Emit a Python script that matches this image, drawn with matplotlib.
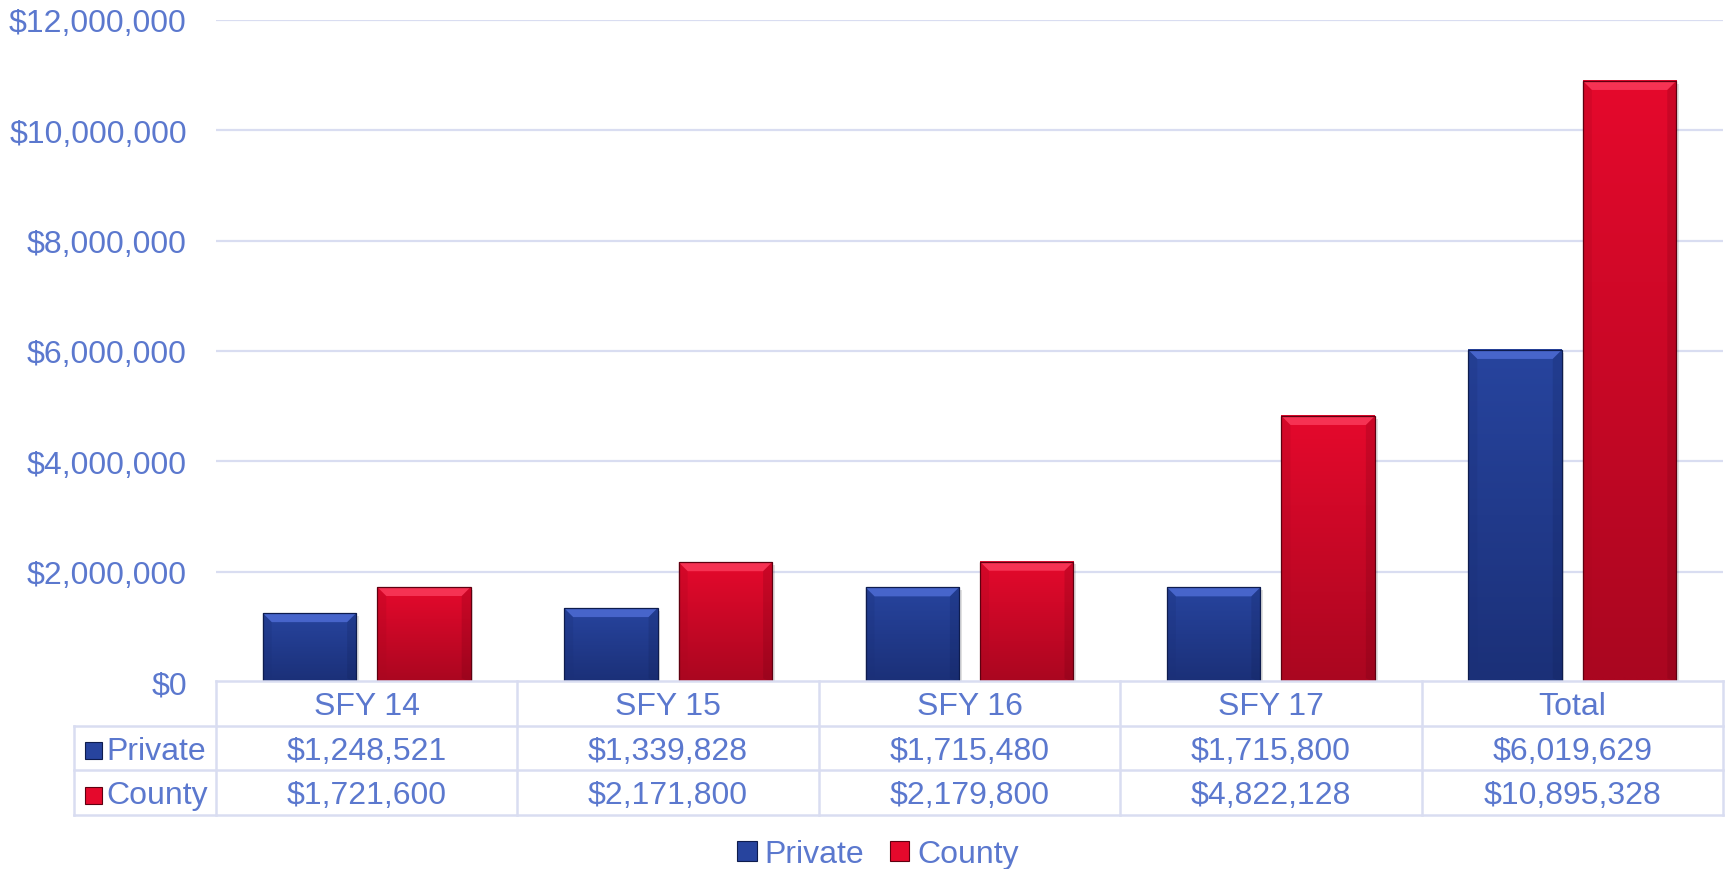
import matplotlib.pyplot as plt
import numpy as np
from matplotlib.patches import Polygon, Rectangle, Patch
from matplotlib.colors import to_rgb

plt.rcParams['font.family'] = ['Liberation Sans', 'DejaVu Sans']

categories = ["SFY 14", "SFY 15", "SFY 16", "SFY 17", "Total"]
series_names = ["Private", "County"]
private = [1248521, 1339828, 1715480, 1715800, 6019629]
county = [1721600, 2171800, 2179800, 4822128, 10895328]
y_ticks = np.arange(0, 12000001, 2000000)

TEXT = "#5B78CE"
GRID = "#D9DDF1"
# (top, bottom, bevel light, edge dark)
STYLES = [("#27449E", "#1B3078", "#5674E0", "#0E1C4E"),
          ("#E5092C", "#AA0620", "#FF4565", "#5E0010")]
FS = 23

W, H = 1725, 870
fig = plt.figure(figsize=(W / 100, H / 100), dpi=100)
left, right = 216 / W, 1723 / W
top, bottom = 1 - 21 / H, 1 - 683 / H
ax = fig.add_axes([left, bottom, right - left, top - bottom])

x = np.arange(len(categories))
bar_w = 0.31
offset = 0.19
ymax = y_ticks[-1]

# bevel size in data units (about 9 px)
axw_px = (right - left) * W
axh_px = (top - bottom) * H
dx = 9 / (axw_px / len(categories))
dy = 9 / (axh_px / ymax)


def bevel_bar(xc, h, style):
    c_top, c_bot, c_light, c_dark = [np.array(to_rgb(c)) for c in style]
    x0, x1 = xc - bar_w / 2, xc + bar_w / 2
    g = np.linspace(0, 1, 64)[:, None, None]
    img = c_top * (1 - g) + c_bot * g
    ax.imshow(img, extent=(x0, x1, 0, h), origin='upper', aspect='auto',
              zorder=2, interpolation='bilinear')
    # top bevel
    ax.add_patch(Polygon([(x0, h), (x1, h), (x1 - dx, h - dy), (x0 + dx, h - dy)],
                         closed=True, facecolor=c_light, edgecolor='none',
                         alpha=0.7, zorder=3))
    # side bevels (subtle)
    ax.add_patch(Polygon([(x0, 0), (x0, h), (x0 + dx, h - dy), (x0 + dx, dy * 0.4)],
                         closed=True, facecolor=c_bot, edgecolor='none',
                         alpha=0.25, zorder=3))
    ax.add_patch(Polygon([(x1, 0), (x1, h), (x1 - dx, h - dy), (x1 - dx, dy * 0.4)],
                         closed=True, facecolor=c_dark, edgecolor='none',
                         alpha=0.18, zorder=3))
    ax.add_patch(Rectangle((x0, 0), bar_w, h, facecolor='none',
                           edgecolor=c_dark, linewidth=0.9, zorder=4))
    # soft shadow
    ax.add_patch(Rectangle((x0 + dx * 0.3, -dy * 0.3), bar_w, h, facecolor='#000000',
                           alpha=0.12, edgecolor='none', zorder=1.5))


for xi, v in zip(x, private):
    bevel_bar(xi - offset, v, STYLES[0])
for xi, v in zip(x, county):
    bevel_bar(xi + offset, v, STYLES[1])

ax.set_xlim(-0.5, len(categories) - 0.5)
ax.set_ylim(0, ymax)
ax.set_yticks(y_ticks)
ax.set_yticklabels([f"${v:,.0f}" for v in y_ticks])
ax.set_xticks([])
ax.tick_params(axis='y', length=0, pad=21, labelsize=FS, labelcolor=TEXT)
for s in ax.spines.values():
    s.set_visible(False)
for t in y_ticks[1:]:
    ax.axhline(t, color=GRID, linewidth=1.6, zorder=0)

# data table under the plot
key_w = (216 - 74) / 301.4
tax = fig.add_axes([74 / W, 1 - 816 / H, (1723 - 74) / W, (816 - 682) / H])
x_left = -0.5 - key_w
tax.set_xlim(x_left, len(categories) - 0.5)
tax.set_ylim(3, 0)
tax.axis('off')

lw = 1.8
tax.plot([-0.5, len(categories) - 0.5], [0, 0], color=GRID, lw=lw, clip_on=False)
for yy in (1, 2, 3):
    tax.plot([x_left, len(categories) - 0.5], [yy, yy], color=GRID, lw=lw, clip_on=False)
for i in range(len(categories) + 1):
    tax.plot([i - 0.5, i - 0.5], [0, 3], color=GRID, lw=lw, clip_on=False)
tax.plot([x_left, x_left], [1, 3], color=GRID, lw=lw, clip_on=False)

ty = 0.06
for i, c in enumerate(categories):
    tax.text(i, 0.5 + ty, c, ha='center', va='center', fontsize=FS, color=TEXT)
    tax.text(i, 1.5 + ty, f"${private[i]:,}", ha='center', va='center', fontsize=FS, color=TEXT)
    tax.text(i, 2.5 + ty, f"${county[i]:,}", ha='center', va='center', fontsize=FS, color=TEXT)

sq_w = 17 / 301.4
sq_h = 17 / ((816 - 682) / 3)
for r, (name, st) in enumerate(zip(series_names, STYLES)):
    cx = x_left + (93 - 74) / 301.4
    tax.add_patch(Rectangle((cx - sq_w / 2, r + 1.5 - sq_h / 2 + ty), sq_w, sq_h,
                            facecolor=st[0], edgecolor=st[3], lw=0.8, clip_on=False))
    tax.text(x_left + (106 - 74) / 301.4, r + 1.5 + ty, name, ha='left', va='center',
             fontsize=FS, color=TEXT)

handles = [Patch(facecolor=st[0], edgecolor=st[3], linewidth=0.8) for st in STYLES]
fig.legend(handles, series_names, loc='center', bbox_to_anchor=(0.509, 1 - 855 / H),
           ncol=2, frameon=False, fontsize=FS, handlelength=0.6, handleheight=0.6,
           handletextpad=0.25, columnspacing=0.8, labelcolor=TEXT, borderpad=0)

fig.savefig("out.png", dpi=100)
